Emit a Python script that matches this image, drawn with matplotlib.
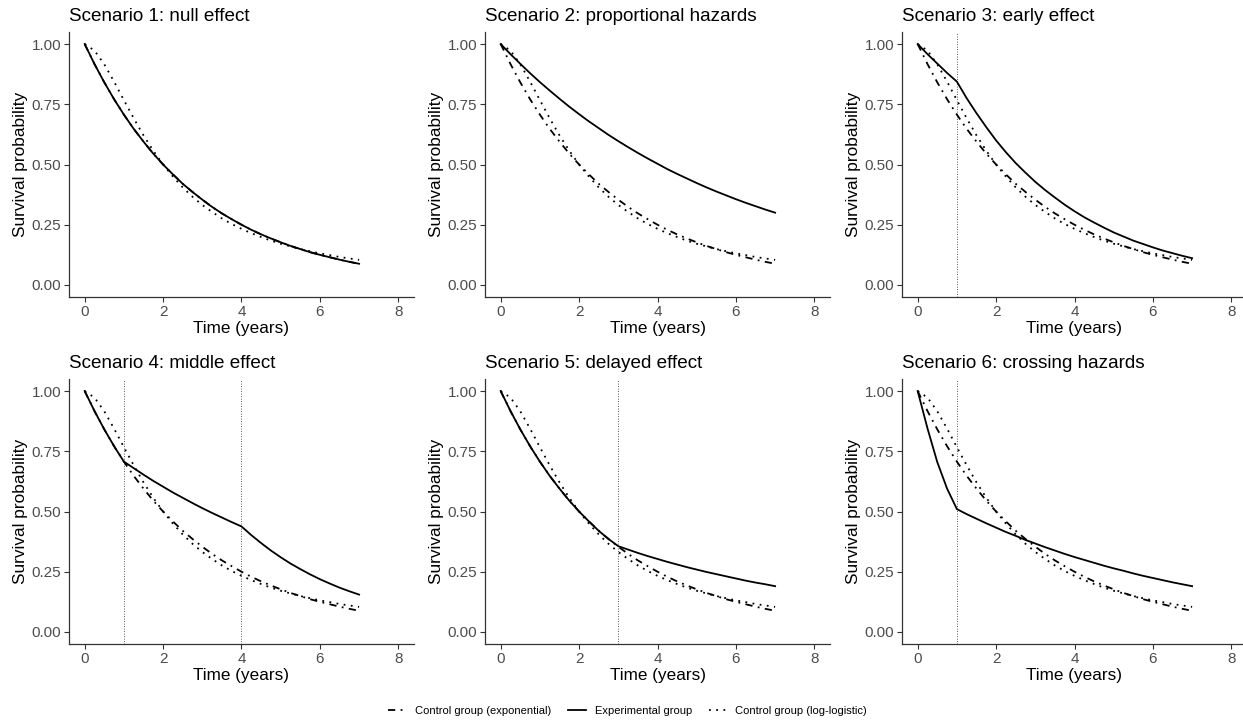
import matplotlib
matplotlib.use("Agg")
import matplotlib.pyplot as plt
from matplotlib.lines import Line2D

plt.rcParams['font.family'] = ['Liberation Sans', 'DejaVu Sans']

# ---------------- data ----------------
time_years = [0.00, 0.25, 0.50, 0.75, 1.00, 1.25, 1.50, 1.75, 2.00, 2.25,
              2.50, 2.75, 3.00, 3.25, 3.50, 3.75, 4.00, 4.25, 4.50, 4.75,
              5.00, 5.25, 5.50, 5.75, 6.00, 6.25, 6.50, 6.75, 7.00]

control_exponential = [1.000, 0.917, 0.841, 0.771, 0.707, 0.648, 0.595, 0.545, 0.500, 0.459,
                       0.420, 0.386, 0.354, 0.324, 0.297, 0.273, 0.250, 0.229, 0.210, 0.193,
                       0.177, 0.162, 0.149, 0.136, 0.125, 0.115, 0.105, 0.096, 0.088]

control_loglogistic = [1.000, 0.973, 0.916, 0.844, 0.767, 0.692, 0.621, 0.557, 0.500, 0.450,
                       0.405, 0.366, 0.332, 0.303, 0.276, 0.253, 0.233, 0.215, 0.199, 0.184,
                       0.171, 0.160, 0.149, 0.140, 0.131, 0.124, 0.116, 0.110, 0.104]

experimental_s1 = [1.000, 0.917, 0.841, 0.771, 0.707, 0.648, 0.595, 0.545, 0.500, 0.459,
                   0.420, 0.386, 0.354, 0.324, 0.297, 0.273, 0.250, 0.229, 0.210, 0.193,
                   0.177, 0.162, 0.149, 0.136, 0.125, 0.115, 0.105, 0.096, 0.088]

experimental_s2 = [1.000, 0.958, 0.918, 0.879, 0.842, 0.807, 0.773, 0.740, 0.709, 0.679,
                   0.651, 0.623, 0.597, 0.572, 0.548, 0.525, 0.503, 0.481, 0.461, 0.442,
                   0.423, 0.405, 0.388, 0.372, 0.356, 0.341, 0.327, 0.313, 0.300]

experimental_s3 = [1.000, 0.958, 0.919, 0.880, 0.844, 0.775, 0.713, 0.655, 0.600, 0.551,
                   0.506, 0.466, 0.428, 0.394, 0.363, 0.333, 0.306, 0.281, 0.259, 0.238,
                   0.218, 0.201, 0.184, 0.170, 0.156, 0.143, 0.132, 0.121, 0.111]

experimental_s4 = [1.000, 0.917, 0.841, 0.771, 0.707, 0.680, 0.653, 0.627, 0.603, 0.579,
                   0.557, 0.535, 0.514, 0.494, 0.475, 0.456, 0.438, 0.402, 0.369, 0.338,
                   0.310, 0.284, 0.261, 0.239, 0.219, 0.201, 0.184, 0.169, 0.155]

experimental_s5 = [1.000, 0.917, 0.841, 0.771, 0.707, 0.648, 0.595, 0.545, 0.500, 0.459,
                   0.420, 0.386, 0.356, 0.342, 0.328, 0.315, 0.303, 0.291, 0.280, 0.269,
                   0.259, 0.249, 0.240, 0.231, 0.222, 0.213, 0.205, 0.198, 0.190]

experimental_s6 = [1.000, 0.845, 0.705, 0.595, 0.510, 0.489, 0.470, 0.451, 0.433, 0.415,
                   0.399, 0.382, 0.367, 0.352, 0.338, 0.324, 0.311, 0.299, 0.287, 0.275,
                   0.264, 0.254, 0.243, 0.233, 0.224, 0.215, 0.206, 0.198, 0.190]

scenario_titles = ["Scenario 1: null effect", "Scenario 2: proportional hazards",
                   "Scenario 3: early effect", "Scenario 4: middle effect",
                   "Scenario 5: delayed effect", "Scenario 6: crossing hazards"]
change_points = [[], [], [1], [1, 4], [3], [1]]

x_ticks = [0, 2, 4, 6, 8]
y_ticks = [0.00, 0.25, 0.50, 0.75, 1.00]
y_tick_labels = ["0.00", "0.25", "0.50", "0.75", "1.00"]

legend_labels = ["Control group (exponential)", "Experimental group",
                 "Control group (log-logistic)"]

experimental = [experimental_s1, experimental_s2, experimental_s3,
                experimental_s4, experimental_s5, experimental_s6]

# ---------------- styling ----------------
DASHDOT = (0, (4, 3, 1, 3))
DOTTED = (0, (1, 3))
LW = 1.3

W, H = 1243, 721
fig = plt.figure(figsize=(W / 100, H / 100), dpi=100)

lefts = [69, 485, 902]
tops = [32, 379]
aw, ah = 345, 265

for i in range(6):
    r, c = divmod(i, 3)
    ax = fig.add_axes([lefts[c] / W, 1 - (tops[r] + ah) / H, aw / W, ah / H])

    for cp in change_points[i]:
        ax.axvline(cp, color='#222222', lw=0.6, ls=(0, (1, 2)), zorder=1)

    ax.plot(time_years, control_exponential, color='black', lw=LW, ls=DASHDOT, zorder=2)
    ax.plot(time_years, experimental[i], color='black', lw=LW, ls='-', zorder=3)
    ax.plot(time_years, control_loglogistic, color='black', lw=LW, ls=DOTTED, zorder=4)

    ax.set_xlim(-0.4, 8.4)
    ax.set_ylim(-0.05, 1.05)
    ax.set_xticks(x_ticks)
    ax.set_xticklabels([str(t) for t in x_ticks])
    ax.set_yticks(y_ticks)
    ax.set_yticklabels(y_tick_labels)

    for side in ['top', 'right']:
        ax.spines[side].set_visible(False)
    for side in ['left', 'bottom']:
        ax.spines[side].set_color('#333333')
        ax.spines[side].set_linewidth(0.9)

    ax.tick_params(length=3.5, width=0.8, color='#333333', labelcolor='#4D4D4D',
                   labelsize=11, pad=2)
    ax.set_xlabel("Time (years)", fontsize=12.3, labelpad=2, color='black')
    ax.set_ylabel("Survival probability", fontsize=12.4, labelpad=3, color='black')
    ax.set_title(scenario_titles[i], loc='left', fontsize=13.6, pad=8, color='black')

handles = [Line2D([], [], color='black', lw=LW, ls=DASHDOT),
           Line2D([], [], color='black', lw=LW, ls='-'),
           Line2D([], [], color='black', lw=LW, ls=DOTTED)]
fig.legend(handles, legend_labels, loc='center', bbox_to_anchor=(0.505, 1 - 711 / H),
           ncol=3, frameon=False, fontsize=8, handlelength=1.6, columnspacing=1.5,
           handletextpad=0.8)

fig.savefig("out.png", dpi=100)
